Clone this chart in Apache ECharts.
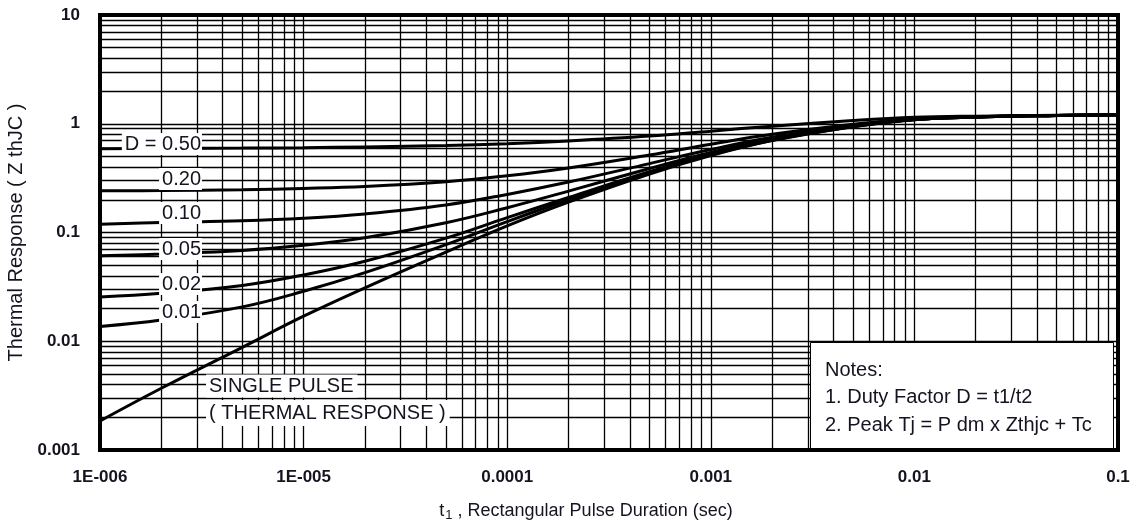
<!DOCTYPE html>
<html>
<head>
<meta charset="utf-8">
<script src="https://cdn.jsdelivr.net/npm/echarts@6/dist/echarts.min.js"></script>
<style>
html,body{margin:0;padding:0;background:#fff;}
#chart{width:1133px;height:525px;}
</style>
</head>
<body>
<div id="chart"></div>
<script>
// ---- data ----
const tValues = [1e-6, 2e-6, 5e-6, 1e-5, 2e-5, 5e-5, 1e-4, 2e-4, 5e-4, 1e-3, 2e-3, 5e-3, 1e-2, 2e-2, 5e-2, 1e-1];
const zD50    = [0.59, 0.592, 0.597, 0.603, 0.612, 0.63, 0.655, 0.695, 0.77, 0.855, 0.95, 1.07, 1.145, 1.175, 1.195, 1.205];
const zD20    = [0.242, 0.243, 0.247, 0.254, 0.265, 0.293, 0.332, 0.392, 0.516, 0.648, 0.80, 0.99, 1.11, 1.16, 1.19, 1.208];
const zD10    = [0.119, 0.1233, 0.128, 0.135, 0.148, 0.179, 0.224, 0.291, 0.43, 0.579, 0.75, 0.966, 1.10, 1.155, 1.19, 1.209];
const zD05    = [0.061, 0.0635, 0.0684, 0.0762, 0.0895, 0.123, 0.169, 0.24, 0.388, 0.545, 0.725, 0.953, 1.096, 1.153, 1.19, 1.21];
const zD02    = [0.0255, 0.0276, 0.0326, 0.0407, 0.0544, 0.0887, 0.137, 0.21, 0.362, 0.524, 0.71, 0.945, 1.092, 1.151, 1.19, 1.21];
const zD01    = [0.0137, 0.0157, 0.0207, 0.0288, 0.0427, 0.0773, 0.126, 0.20, 0.354, 0.517, 0.705, 0.943, 1.091, 1.15, 1.19, 1.21];
const zSingle = [0.00185, 0.0037, 0.0088, 0.017, 0.031, 0.066, 0.115, 0.19, 0.345, 0.51, 0.70, 0.94, 1.09, 1.15, 1.19, 1.21];

const xTickLabels = ['1E-006', '1E-005', '0.0001', '0.001', '0.01', '0.1'];
const yTickLabels = ['0.001', '0.01', '0.1', '1', '10'];
const curveLabels = ['D = 0.50', '0.20', '0.10', '0.05', '0.02', '0.01'];
const singleLabels = ['SINGLE PULSE', '( THERMAL RESPONSE )'];
const notesLines = ['Notes:', '1. Duty Factor D = t1/t2', '2. Peak Tj = P dm x Zthjc + Tc'];
const xAxisTitle = ['t', '1', ' , Rectangular Pulse Duration (sec)'];
const yAxisTitle = 'Thermal Response ( Z thJC )';

const X_MIN = 1e-6, X_MAX = 0.1, Y_MIN = 0.001, Y_MAX = 10;

// ---- build ----
const FONT = '"Liberation Sans", Arial, sans-serif';
const TXT = '#141420';

function minorValues(lo, hi) {
  const out = [];
  for (let e = Math.round(Math.log10(lo)); e < Math.round(Math.log10(hi)); e++) {
    for (let m = 2; m <= 9; m++) out.push(m * Math.pow(10, e));
  }
  return out;
}
const gridLinesData = [];
minorValues(X_MIN, X_MAX).forEach(v => gridLinesData.push({ coords: [[v, Y_MIN], [v, Y_MAX]] }));
minorValues(Y_MIN, Y_MAX).forEach(v => gridLinesData.push({ coords: [[X_MIN, v], [X_MAX, v]] }));

const seriesDefs = [zD50, zD20, zD10, zD05, zD02, zD01, zSingle];
const series = [{
  type: 'lines',
  coordinateSystem: 'cartesian2d',
  silent: true,
  z: 1,
  lineStyle: { color: '#000', width: 1.3, opacity: 1, curveness: 0 },
  data: gridLinesData
}];
seriesDefs.forEach((arr, i) => series.push({
  type: 'line',
  name: 's' + i,
  data: tValues.map((t, k) => [t, arr[k]]),
  showSymbol: false,
  symbol: 'none',
  smooth: 0.4,
  lineStyle: { color: '#000', width: 3 },
  z: 3,
  silent: true
}));

const chart = echarts.init(document.getElementById('chart'), null, { renderer: 'canvas' });

function labelFor(v, arr, lo) {
  const idx = Math.round(Math.log10(v)) - Math.round(Math.log10(lo));
  return arr[idx] !== undefined ? arr[idx] : '';
}

const curveLabelY = [144, 179, 213, 249, 284, 312];
const graphics = [];
curveLabels.forEach((s, i) => {
  graphics.push({
    type: 'text', z: 50,
    style: {
      text: s, x: 202, y: curveLabelY[i],
      textAlign: 'right', textVerticalAlign: 'middle',
      font: '20px ' + FONT, fill: TXT,
      backgroundColor: '#fff', padding: [1, 1, 1, 3]
    }
  });
});
graphics.push({
  type: 'text', z: 50,
  style: { text: singleLabels[0], x: 206, y: 386, textAlign: 'left', textVerticalAlign: 'middle',
    font: '20px ' + FONT, fill: TXT, backgroundColor: '#fff', padding: [2, 4, 1, 3] }
});
graphics.push({
  type: 'text', z: 50,
  style: { text: singleLabels[1], x: 206, y: 413, textAlign: 'left', textVerticalAlign: 'middle',
    font: '20px ' + FONT, fill: TXT, backgroundColor: '#fff', padding: [3, 4, 3, 3] }
});
graphics.push({
  type: 'rect', z: 40,
  shape: { x: 810.5, y: 342.5, width: 303, height: 106 },
  style: { fill: '#fff', stroke: '#000', lineWidth: 1 }
});
notesLines.forEach((s, i) => {
  graphics.push({
    type: 'text', z: 50,
    style: { text: s, x: 825, y: 370 + i * 27.5, textAlign: 'left', textVerticalAlign: 'middle',
      font: '20px ' + FONT, fill: TXT }
  });
});

chart.setOption({
  animation: false,
  backgroundColor: '#fff',
  grid: { left: 100, right: 15, top: 15, bottom: 75, show: true, borderColor: '#000', borderWidth: 4,
    backgroundColor: 'transparent', containLabel: false, outerBoundsMode: 'none' },
  xAxis: {
    type: 'log', logBase: 10, min: X_MIN, max: X_MAX,
    axisLine: { show: false }, axisTick: { show: false },
    splitLine: { show: true, lineStyle: { color: '#000', width: 1.3 } },
    axisLabel: {
      margin: 19, fontFamily: FONT, fontSize: 17, fontWeight: 'bold', color: TXT,
      formatter: v => labelFor(v, xTickLabels, X_MIN)
    },
    name: '{a|' + xAxisTitle[0] + '}{s|' + xAxisTitle[1] + '}{a|' + xAxisTitle[2] + '}',
    nameLocation: 'middle', nameGap: 50,
    nameTextStyle: {
      padding: [0, 46, 0, 0],
      rich: {
        a: { fontFamily: FONT, fontSize: 18, color: TXT, lineHeight: 22 },
        s: { fontFamily: FONT, fontSize: 13, color: TXT, lineHeight: 22, padding: [9, 0, 0, 1] }
      }
    }
  },
  yAxis: {
    type: 'log', logBase: 10, min: Y_MIN, max: Y_MAX,
    axisLine: { show: false }, axisTick: { show: false },
    splitLine: { show: true, lineStyle: { color: '#000', width: 1.3 } },
    axisLabel: {
      margin: 20, fontFamily: FONT, fontSize: 17, fontWeight: 'bold', color: TXT,
      formatter: v => labelFor(v, yTickLabels, Y_MIN)
    },
    name: yAxisTitle, nameLocation: 'middle', nameGap: 69,
    nameTextStyle: { fontFamily: FONT, fontSize: 20, color: TXT }
  },
  series: series,
  graphic: { elements: graphics }
});
</script>
</body>
</html>
